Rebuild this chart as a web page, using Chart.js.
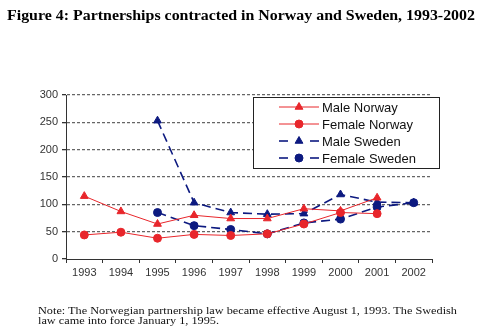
<!DOCTYPE html>
<html>
<head>
<meta charset="utf-8">
<script src="https://cdn.jsdelivr.net/npm/chart.js@4/dist/chart.umd.min.js"></script>
<style>
  body { margin: 0; background: #fff; width: 488px; height: 329px; overflow: hidden; position: relative; }
  #title { position: absolute; left: 7px; top: 9px; font: bold 14px/14px "Liberation Serif", "Times New Roman", serif; color: #000; white-space: nowrap; transform-origin: 0 0; }
  #wrap { position: absolute; left: 0; top: 0; width: 488px; height: 329px; }
  #note { position: absolute; left: 38px; top: 305.5px; font: 10px/10px "Liberation Serif", "Times New Roman", serif; color: #111; white-space: nowrap; transform-origin: 0 0; }
</style>
</head>
<body>
<div id="wrap"><canvas id="chart" width="488" height="329"></canvas></div>
<div id="title">Figure 4: Partnerships contracted in Norway and Sweden, 1993-2002</div>
<div id="note">Note: The Norwegian partnership law became effective August 1, 1993. The Swedish<br>law came into force January 1, 1995.</div>
<script>
const years = ['1993', '1994', '1995', '1996', '1997', '1998', '1999', '2000', '2001', '2002'];
const maleNorway   = [115, 87, 64, 80, 74, 74, 92, 88, 112, null];
const femaleNorway = [44, 49, 38, 45, 43, 46, 64, 85, 83, null];
const maleSweden   = [null, null, 253, 103, 85, 82, 83, 118, 104, 103];
const femaleSweden = [null, null, 85, 61, 54, 46, 66, 73, 95, 103];
const yTicks = [0, 50, 100, 150, 200, 250, 300];

const red = '#e8262b';
const navy = '#0d1a80';

// stretch the serif text blocks to their set widths
function stretchTo(id, width) {
    const el = document.getElementById(id);
    const w = el.getBoundingClientRect().width;
    el.style.transform = 'scaleX(' + (width / w) + ')';
}
stretchTo('title', 468);
stretchTo('note', 419);

function series(label, data, color, shape, dashed) {
    return {
        label: label,
        data: data,
        borderColor: color,
        backgroundColor: color,
        borderWidth: dashed ? 1.6 : 1,
        borderDash: dashed ? [9, 5] : [],
        pointStyle: shape,
        pointRadius: shape === 'triangle' ? 4.5 : 4,
        pointBorderWidth: 1,
        tension: 0
    };
}

// boxed legend with a short line and marker per series
const boxLegend = {
    id: 'boxLegend',
    afterDraw(chart) {
        const ctx = chart.ctx;
        const x0 = 253, y0 = 97, w = 186, h = 71;
        ctx.save();
        ctx.fillStyle = '#fff';
        ctx.fillRect(x0, y0, w, h);
        ctx.strokeStyle = '#222';
        ctx.lineWidth = 1;
        ctx.setLineDash([]);
        ctx.strokeRect(x0 + 0.5, y0 + 0.5, w, h);
        chart.data.datasets.forEach((ds, i) => {
            const y = y0 + 10 + i * 17;
            ctx.strokeStyle = ds.borderColor;
            ctx.fillStyle = ds.backgroundColor;
            ctx.lineWidth = ds.borderWidth;
            ctx.setLineDash([]);
            if (ds.borderDash.length) {
                ctx.beginPath(); ctx.moveTo(279, y); ctx.lineTo(288, y); ctx.stroke();
                ctx.beginPath(); ctx.moveTo(310, y); ctx.lineTo(319, y); ctx.stroke();
            } else {
                ctx.beginPath(); ctx.moveTo(279, y); ctx.lineTo(319, y); ctx.stroke();
            }
            ctx.lineWidth = 1;
            Chart.helpers.drawPoint(ctx, {
                pointStyle: ds.pointStyle,
                radius: ds.pointRadius,
                borderWidth: 1,
                rotation: 0
            }, 299, y);
            ctx.fillStyle = '#111';
            ctx.font = '13px "Liberation Sans", Arial, sans-serif';
            ctx.textBaseline = 'middle';
            ctx.fillText(ds.label, 322, y + 1);
        });
        ctx.restore();
    }
};

new Chart(document.getElementById('chart'), {
    type: 'line',
    data: {
        labels: years,
        datasets: [
            series('Male Norway', maleNorway, red, 'triangle', false),
            series('Female Norway', femaleNorway, red, 'circle', false),
            series('Male Sweden', maleSweden, navy, 'triangle', true),
            series('Female Sweden', femaleSweden, navy, 'circle', true)
        ]
    },
    options: {
        responsive: false,
        animation: false,
        layout: { padding: { left: 0, top: 95, right: 56, bottom: 45 } },
        plugins: { legend: { display: false }, tooltip: { enabled: false } },
        scales: {
            x: {
                offset: true,
                afterFit(scale) { scale.height = 25; },
                grid: {
                    offset: true,
                    drawOnChartArea: false,
                    drawTicks: true,
                    tickLength: 4,
                    tickColor: '#333'
                },
                border: { color: '#333', width: 1 },
                ticks: {
                    color: '#333',
                    padding: 3,
                    maxRotation: 0,
                    font: { family: '"Liberation Sans", Arial, sans-serif', size: 11 }
                }
            },
            y: {
                min: 0,
                max: 300,
                afterFit(scale) { scale.width = 66; },
                afterBuildTicks(scale) { scale.ticks = yTicks.map(v => ({ value: v })); },
                grid: {
                    color: ctx => ctx.tick && ctx.tick.value === 0 ? 'rgba(0,0,0,0)' : '#666',
                    lineWidth: 1.3,
                    tickLength: 4,
                    tickColor: '#333',
                    tickBorderDash: [],
                    drawTicks: true
                },
                border: { color: '#333', width: 1, dash: [3, 2] },
                ticks: {
                    color: '#333',
                    padding: 4,
                    font: { family: '"Liberation Sans", Arial, sans-serif', size: 11 }
                }
            }
        }
    },
    plugins: [boxLegend]
});
</script>
</body>
</html>
